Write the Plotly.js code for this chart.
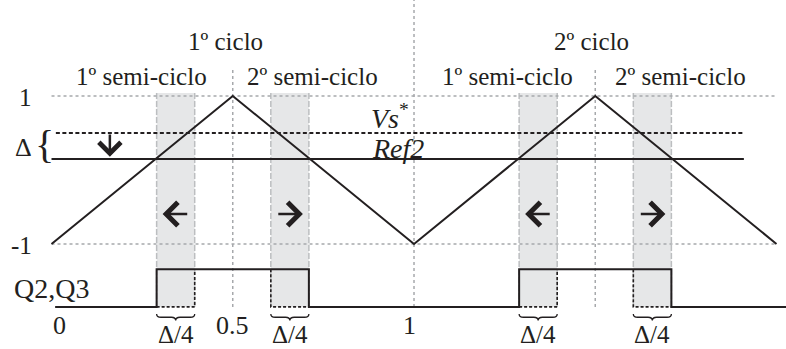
<!DOCTYPE html>
<html>
<head>
<meta charset="utf-8">
<script src="https://cdn.plot.ly/plotly-3.0.1.min.js"></script>
<style>
  html, body { margin: 0; padding: 0; background: #ffffff; }
  #chart { width: 786px; height: 349px; }
</style>
</head>
<body>
<div id="chart"></div>
<script>
// Triangular carrier over two switching periods
const carrierT = [0, 0.5, 1, 1.5, 2];
const carrierV = [-1, 1, -1, 1, -1];

// Modulating references
const vsStarLevel = 0.5;
const ref2Level = 0.15;
const vsStarSpan = [0.012, 1.91];
const ref2Span = [0, 1.91];

// Shaded Δ/4 windows around each transition
const windowStart = [0.29, 0.605, 1.29, 1.605];
const windowEnd = [0.395, 0.71, 1.395, 1.71];
const windowArrow = [-1, 1, -1, 1];   // -1: shifts left, 1: shifts right
const windowTop = 1.04;

// Q2,Q3 gate signal levels
const gateHigh = -1.34;
const gateLow = -1.85;
const gateSpan = [0.01, 2.03];

// Text
const cycleLabels = ['1º ciclo', '2º ciclo'];
const cycleLabelT = [0.48, 1.49];
const halfLabels = ['1º semi-ciclo', '2º semi-ciclo', '1º semi-ciclo', '2º semi-ciclo'];
const halfLabelT = [0.248, 0.721, 1.259, 1.734];
const timeTicks = [0, 0.5, 1];
const timeTickText = ['0', '0.5', '1'];
const timeTickShift = [8, 0, -5];
const levelTicks = [1, -1];
const levelTickText = ['1', '-1'];
const windowLabel = 'Δ/4';

const INK = '#231f20';
const GRID = '#a7a9ac';
const FONT = 'Liberation Serif, Times New Roman, serif';

// ---- traces ----
const traces = [];

traces.push({
  x: carrierT, y: carrierV, mode: 'lines',
  line: { color: INK, width: 2 }, hoverinfo: 'skip'
});

traces.push({
  x: ref2Span, y: [ref2Level, ref2Level], mode: 'lines',
  line: { color: INK, width: 2 }, hoverinfo: 'skip'
});

traces.push({
  x: vsStarSpan, y: [vsStarLevel, vsStarLevel], mode: 'lines',
  line: { color: INK, width: 2, dash: '4px,2.5px' }, hoverinfo: 'skip'
});

// Gate pulse driven by Ref2 (solid)
const gx = [gateSpan[0]], gy = [gateLow];
for (let i = 0; i < windowStart.length; i += 2) {
  gx.push(windowStart[i], windowStart[i], windowEnd[i + 1], windowEnd[i + 1]);
  gy.push(gateLow, gateHigh, gateHigh, gateLow);
}
gx.push(gateSpan[1]); gy.push(gateLow);
traces.push({
  x: gx, y: gy, mode: 'lines',
  line: { color: INK, width: 2 }, hoverinfo: 'skip'
});

// Gate pulse driven by Vs* (dashed)
const dx = [], dy = [];
for (let i = 0; i < windowStart.length; i += 2) {
  dx.push(windowStart[i], windowEnd[i], windowEnd[i], null);
  dy.push(gateLow, gateLow, gateHigh, null);
  dx.push(windowStart[i + 1], windowStart[i + 1], windowEnd[i + 1], null);
  dy.push(gateHigh, gateLow, gateLow, null);
}
traces.push({
  x: dx, y: dy, mode: 'lines', connectgaps: false,
  line: { color: INK, width: 1.6, dash: '3px,2px' }, hoverinfo: 'skip'
});

// ---- shapes ----
const shapes = [];

windowStart.forEach((s, i) => {
  shapes.push({
    type: 'rect', xref: 'x', yref: 'y', layer: 'below',
    x0: s, x1: windowEnd[i], y0: gateLow, y1: windowTop,
    fillcolor: '#e6e7e8', line: { width: 0 }
  });
  [s, windowEnd[i]].forEach(e => shapes.push({
    type: 'line', xref: 'x', yref: 'y', layer: 'below',
    x0: e, x1: e, y0: gateLow, y1: windowTop,
    line: { color: '#bcbec0', width: 1.5, dash: '6px,2px' }
  }));
});

// dotted grid: carrier extremes and half/full periods
levelTicks.forEach(v => shapes.push({
  type: 'line', xref: 'x', yref: 'y', layer: 'below',
  x0: carrierT[0], x1: carrierT[carrierT.length - 1], y0: v, y1: v,
  line: { color: GRID, width: 1.5, dash: 'dot' }
}));
[0.5, 1.5].forEach(t => shapes.push({
  type: 'line', xref: 'x', yref: 'y', layer: 'below',
  x0: t, x1: t, y0: gateLow, y1: 1.38,
  line: { color: GRID, width: 1.5, dash: 'dot' }
}));
shapes.push({
  type: 'line', xref: 'x', yref: 'y', layer: 'below',
  x0: 1, x1: 1, y0: gateLow, y1: 2.3,
  line: { color: GRID, width: 1.5, dash: 'dot' }
});

// horizontal braces under each window
function brace(x0, x1, y, h, d) {
  const xm = (x0 + x1) / 2;
  return `M${x0},${y + h} Q${x0},${y} ${x0 + d},${y} L${xm - d},${y} ` +
         `Q${xm},${y} ${xm},${y - h} Q${xm},${y} ${xm + d},${y} ` +
         `L${x1 - d},${y} Q${x1},${y} ${x1},${y + h}`;
}
windowStart.forEach((s, i) => shapes.push({
  type: 'path', xref: 'x', yref: 'y',
  path: brace(s, windowEnd[i], -1.99, 0.045, 0.012),
  line: { color: INK, width: 1.3 }
}));

// ---- annotations ----
const ann = [];
const txt = (x, y, text, size, extra) => Object.assign({
  x, y, xref: 'x', yref: 'y', text, showarrow: false, borderpad: 0,
  font: { family: FONT, size: size, color: INK }
}, extra || {});

cycleLabels.forEach((t, i) => ann.push(txt(cycleLabelT[i], 1.73, t, 25)));
halfLabels.forEach((t, i) => ann.push(txt(halfLabelT[i], 1.27, t, 25)));
levelTicks.forEach((v, i) => ann.push(txt(-0.05, v - 0.02, levelTickText[i], 25, { xanchor: 'right' })));
timeTicks.forEach((t, i) => ann.push(txt(t, -2.1, timeTickText[i], 26, { xshift: timeTickShift[i] })));
windowStart.forEach((s, i) => ann.push(txt((s + windowEnd[i]) / 2, -2.414, windowLabel, 25, { yanchor: 'bottom' })));

ann.push(txt(0.001, -1.595, 'Q2,Q3', 28));
ann.push(txt(-0.076, 0.31, 'Δ', 26));
ann.push(txt(-0.02, 0.35, '{', 40));
ann.push(txt(0.934, 0.725, '<i>Vs</i><sup>*</sup>', 28));
ann.push(txt(0.956, 0.295, '<i>Ref2</i>', 28));

// Δ shift arrow from Vs* down to Ref2
ann.push({
  x: 0.161, y: ref2Level + 0.03, ax: 0.161, ay: vsStarLevel,
  xref: 'x', yref: 'y', axref: 'x', ayref: 'y', text: '',
  showarrow: true, arrowhead: 4, arrowsize: 1.7, arrowwidth: 2.5, arrowcolor: INK
});

// edge-shift arrows inside each window
const arrowY = -0.595, halfLen = 0.036;
windowStart.forEach((s, i) => {
  const c = (s + windowEnd[i]) / 2, dir = windowArrow[i];
  ann.push({
    x: c + dir * halfLen, y: arrowY, ax: c - dir * halfLen, ay: arrowY,
    xref: 'x', yref: 'y', axref: 'x', ayref: 'y', text: '',
    showarrow: true, arrowhead: 4, arrowsize: 1.8, arrowwidth: 2.5, arrowcolor: INK
  });
});

const layout = {
  width: 786, height: 349,
  margin: { l: 0, r: 0, t: 0, b: 0 },
  paper_bgcolor: '#ffffff', plot_bgcolor: '#ffffff',
  showlegend: false,
  xaxis: { range: [-0.1421, 2.0262], visible: false, fixedrange: true },
  yaxis: { range: [-2.419, 2.297], visible: false, fixedrange: true },
  shapes, annotations: ann
};

Plotly.newPlot('chart', traces, layout, { staticPlot: true, displayModeBar: false });
</script>
</body>
</html>
